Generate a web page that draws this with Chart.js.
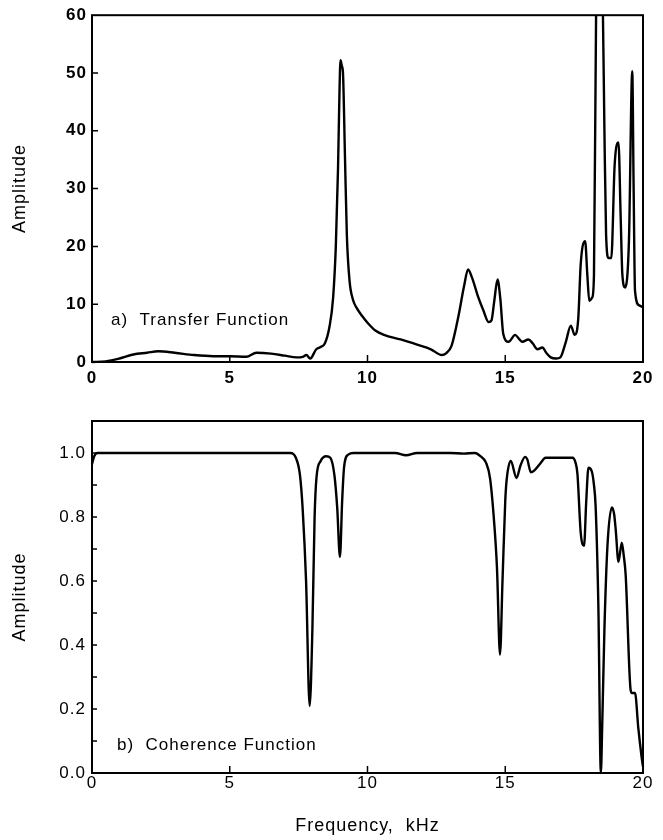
<!DOCTYPE html>
<html><head><meta charset="utf-8">
<script src="https://cdn.jsdelivr.net/npm/chart.js@4.4.0/dist/chart.umd.min.js"></script>
<style>
html,body{margin:0;padding:0;background:#fff;}
#wrap{position:relative;width:663px;height:840px;background:#fff;}
canvas{position:absolute;left:0;}
</style></head><body>
<div id="wrap">
<canvas id="c1" width="663" height="400" style="top:0;width:663px;height:400px"></canvas>
<canvas id="c2" width="663" height="440" style="top:400px;width:663px;height:440px"></canvas>
</div>
<script>
// ---- data ----
const freqTicks = [0, 5, 10, 15, 20];
const transferTicks = [0, 10, 20, 30, 40, 50, 60];
const coherenceTicks = [0, 0.2, 0.4, 0.6, 0.8, 1.0];
const coherenceMinorTicks = [0.1, 0.2, 0.3, 0.4, 0.5, 0.6, 0.7, 0.8, 0.9, 1.0];

const transferFreq = [
  0, 0.5, 1.0, 1.5, 2.0, 2.4, 3.0, 3.7, 4.4, 5.0,
  5.6, 5.97, 6.5, 7.0, 7.42, 7.65, 7.78, 7.92, 8.14, 8.3,
  8.45, 8.62, 8.75, 8.85, 8.93, 8.98, 9.02, 9.07, 9.11, 9.18,
  9.25, 9.35, 9.47, 9.6, 9.8, 10.0, 10.3, 10.6, 11.2, 11.8,
  12.3, 12.7, 12.85, 13.05, 13.3, 13.5, 13.65, 13.8, 14.0, 14.2,
  14.4, 14.5, 14.6, 14.72, 14.82, 14.93, 15.12, 15.36, 15.5, 15.62,
  15.84, 16.0, 16.17, 16.35, 16.5, 16.65, 16.85, 17.0, 17.2, 17.38,
  17.52, 17.65, 17.74, 17.9, 17.98, 18.05, 18.16, 18.22, 18.3, 18.42,
  18.54, 18.6, 18.66, 18.75, 18.85, 18.97, 19.11, 19.19, 19.25, 19.35,
  19.49, 19.61, 19.66, 19.71, 19.86, 20.0
];
const transferAmp = [
  0, 0.1, 0.6, 1.3, 1.6, 1.85, 1.6, 1.2, 1.0, 1.0,
  0.9, 1.6, 1.45, 1.1, 0.8, 0.9, 1.2, 0.6, 2.2, 2.6,
  3.2, 6.1, 11.0, 20.0, 33.5, 46.0, 52.2, 51.2, 50.0, 36.0,
  22.0, 14.0, 10.8, 9.4, 8.0, 6.8, 5.4, 4.7, 3.9, 3.0,
  2.2, 1.2, 1.5, 2.8, 7.9, 13.0, 16.0, 14.5, 11.5, 9.0,
  6.9, 7.2, 10.5, 14.3, 11.0, 4.8, 3.5, 4.7, 4.0, 3.5,
  3.9, 3.2, 2.2, 2.5, 1.5, 0.8, 0.6, 0.8, 3.5, 6.3,
  4.7, 7.5, 17.0, 20.9, 15.0, 10.6, 11.2, 15.0, 62.0, 80.0,
  62.0, 40.0, 22.0, 18.0, 18.0, 34.0, 38.0, 25.0, 15.2, 12.9,
  21.0, 50.3, 30.0, 12.3, 9.8, 9.5
];

const coherenceFreq = [
  0, 0.08, 0.2, 7.2, 7.4, 7.55, 7.65, 7.77, 7.9, 8.0,
  8.08, 8.15, 8.3, 8.5, 8.65, 8.8, 8.9, 9.0, 9.08, 9.15,
  9.3, 9.5, 11.0, 11.4, 11.8, 13.0, 13.5, 13.9, 14.1, 14.3,
  14.45, 14.6, 14.7, 14.81, 14.9, 15.0, 15.05, 15.2, 15.41, 15.55,
  15.72, 15.8, 15.93, 16.05, 16.25, 16.47, 17.44, 17.55, 17.62, 17.74,
  17.86, 17.94, 18.02, 18.14, 18.22, 18.28, 18.38, 18.47, 18.52, 18.6,
  18.71, 18.87, 18.95, 19.01, 19.11, 19.23, 19.3, 19.37, 19.55, 19.6,
  19.71, 19.83, 19.95, 20.0
];
const coherenceAmp = [
  0.965, 0.99, 1.0, 1.0, 0.985, 0.93, 0.82, 0.6, 0.21, 0.45,
  0.8, 0.925, 0.975, 0.99, 0.985, 0.93, 0.83, 0.675, 0.85, 0.956,
  0.995, 1.0, 1.0, 0.993, 1.0, 1.0, 0.998, 1.0, 0.99, 0.97,
  0.92, 0.78, 0.64, 0.37, 0.6, 0.85, 0.915, 0.975, 0.922, 0.96,
  0.988, 0.98, 0.94, 0.945, 0.965, 0.985, 0.985, 0.97, 0.935, 0.75,
  0.71, 0.85, 0.954, 0.943, 0.9, 0.834, 0.52, 0.0, 0.15, 0.45,
  0.71, 0.83, 0.81, 0.76, 0.66, 0.72, 0.68, 0.62, 0.26, 0.25,
  0.25, 0.14, 0.05, 0.02
];

// ---- helpers ----
const FAM = '"Liberation Sans", Arial, Helvetica, sans-serif';
function pts(xs, ys) {
  const n = Math.min(xs.length, ys.length);
  const out = [];
  for (let i = 0; i < n; i++) out.push({x: xs[i], y: ys[i]});
  return out;
}

const framePlugin = {
  id: 'frame',
  afterInit(chart) { chart.ctx.letterSpacing = '1px'; },
  beforeDraw(chart) { chart.ctx.letterSpacing = '1px'; },
  afterDraw(chart, args, o) {
    const {ctx, chartArea: a} = chart;
    const x = chart.scales.x, y = chart.scales.y;
    ctx.save();
    ctx.strokeStyle = '#000';
    ctx.lineWidth = 2;
    ctx.strokeRect(a.left, a.top, a.right - a.left, a.bottom - a.top);
    ctx.lineWidth = 1.5;
    ctx.beginPath();
    o.xInner.forEach(v => {
      const px = x.getPixelForValue(v);
      ctx.moveTo(px, a.bottom); ctx.lineTo(px, a.bottom - o.xLen);
    });
    o.yInner.forEach(v => {
      const py = y.getPixelForValue(v);
      ctx.moveTo(a.left, py); ctx.lineTo(a.left + o.yLen, py);
    });
    ctx.stroke();
    ctx.letterSpacing = '1px';
    ctx.font = '17px ' + FAM;
    ctx.fillStyle = '#000';
    ctx.textBaseline = 'middle';
    ctx.textAlign = 'left';
    ctx.fillText(o.label, a.left + o.dx, a.top + o.dy);
    ctx.restore();
  }
};

function makeChart(id, cfg) {
  return new Chart(document.getElementById(id), {
    type: 'line',
    data: { datasets: [{
      data: cfg.data,
      borderColor: '#000',
      borderWidth: 2.4,
      pointRadius: 0,
      fill: false,
      cubicInterpolationMode: 'monotone',
      clip: {left: 2, right: 2, top: 0, bottom: 2}
    }]},
    options: {
      responsive: false,
      animation: false,
      devicePixelRatio: 1,
      layout: { padding: {left: 0, right: 20, top: cfg.padTop, bottom: 0} },
      plugins: {
        legend: {display: false},
        tooltip: {enabled: false},
        frame: cfg.frame
      },
      scales: {
        x: {
          type: 'linear', min: 0, max: 20,
          afterBuildTicks: s => { s.ticks = freqTicks.map(v => ({value: v})); },
          afterFit: s => { s.height = cfg.xHeight; },
          grid: {display: false, drawTicks: false},
          border: {display: false},
          ticks: {
            color: '#000', padding: cfg.xPad, maxRotation: 0, autoSkip: false,
            font: {family: FAM, size: 17, weight: cfg.tickWeight},
            callback: v => String(v)
          },
          title: cfg.xTitle ? {
            display: true, text: cfg.xTitle, color: '#000',
            font: {family: FAM, size: 18}, padding: {top: 0, bottom: 3}
          } : {display: false}
        },
        y: {
          type: 'linear', min: cfg.yMin, max: cfg.yMax,
          afterBuildTicks: s => { s.ticks = cfg.yTicks.map(v => ({value: v})); },
          afterFit: s => { s.width = 92; },
          grid: {display: false, drawTicks: false},
          border: {display: false},
          ticks: {
            color: '#000', padding: cfg.yPad, autoSkip: false,
            font: {family: FAM, size: 17, weight: cfg.tickWeight},
            callback: cfg.yFmt
          },
          title: {
            display: true, text: 'Amplitude', color: '#000',
            font: {family: FAM, size: 18}, padding: {top: 9, bottom: 0}
          }
        }
      }
    },
    plugins: [framePlugin]
  });
}

makeChart('c1', {
  data: pts(transferFreq, transferAmp),
  padTop: 12, xHeight: 38, xPad: 6, yPad: 5,
  yMin: 0, yMax: 60, yTicks: transferTicks,
  yFmt: v => String(v),
  tickWeight: 'bold',
  frame: {
    xInner: freqTicks.slice(1, -1), xLen: 7,
    yInner: transferTicks.slice(1, -1), yLen: 6,
    label: 'a)  Transfer Function', dx: 19, dy: 305
  }
});

makeChart('c2', {
  data: pts(coherenceFreq, coherenceAmp),
  padTop: 21, xHeight: 67, xPad: 0, yPad: 6,
  yMin: 0, yMax: 1.1, yTicks: coherenceTicks,
  yFmt: v => Number(v).toFixed(1),
  tickWeight: 'normal',
  xTitle: 'Frequency,  kHz',
  frame: {
    xInner: freqTicks.slice(1, -1), xLen: 7,
    yInner: coherenceMinorTicks, yLen: 5,
    label: 'b)  Coherence Function', dx: 25, dy: 324
  }
});
</script>
</body></html>
